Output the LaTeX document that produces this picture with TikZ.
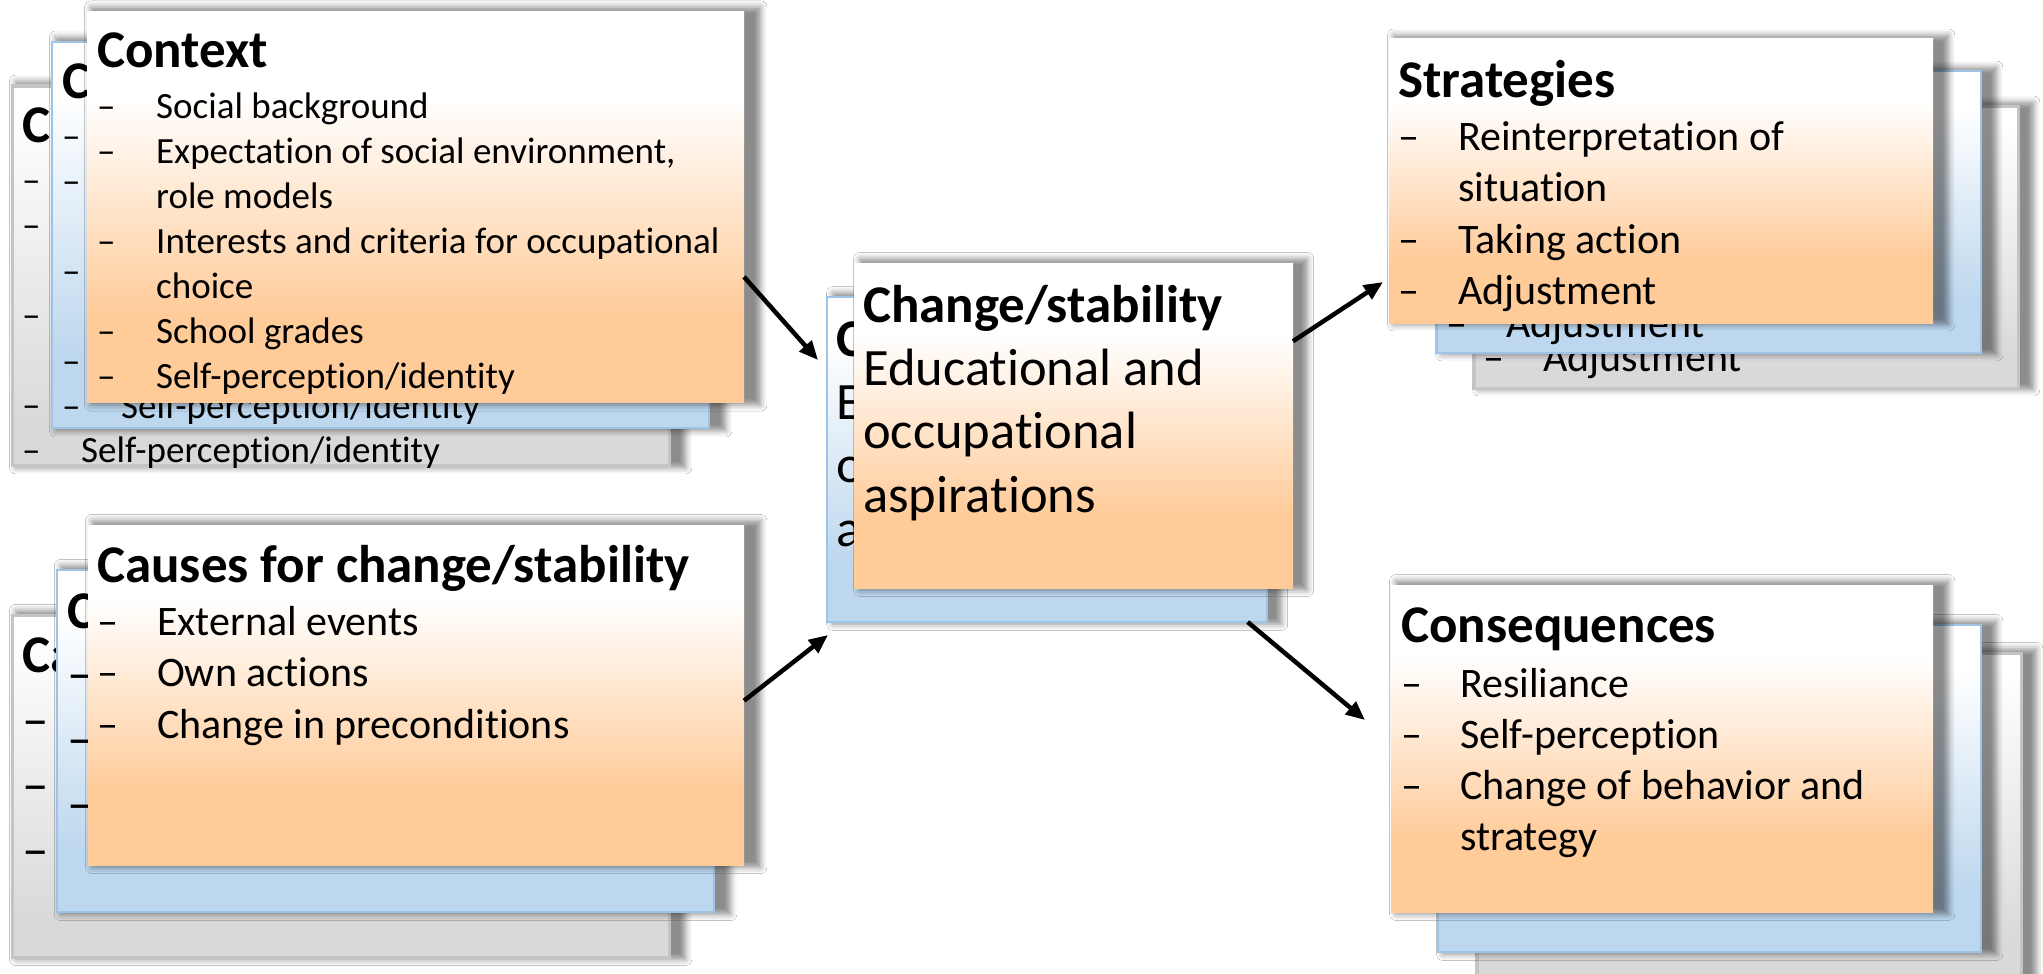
\documentclass[tikz,border=0pt]{standalone}
\usepackage{fontspec}
\setmainfont{Carlito}[Ligatures={NoCommon,NoContextual,NoRequired}, Contextuals=NoAlternate, RawFeature={-dlig}]
\usetikzlibrary{arrows.meta,shadows.blur}

\definecolor{orng}{RGB}{255,203,153}
\definecolor{blu}{RGB}{189,215,238}
\definecolor{bluline}{RGB}{157,195,230}
\definecolor{gry}{RGB}{217,217,217}
\definecolor{gryline}{RGB}{196,196,196}

\pgfdeclareverticalshading{orngsh}{100bp}{color(0bp)=(orng); color(36bp)=(orng); color(64bp)=(white); color(100bp)=(white)}
\pgfdeclareverticalshading{blush}{100bp}{color(0bp)=(blu); color(34bp)=(blu); color(68bp)=(white); color(100bp)=(white)}
\pgfdeclareverticalshading{grysh}{100bp}{color(0bp)=(gry); color(30bp)=(gry); color(72bp)=(white); color(100bp)=(white)}

\newlength{\Ind}
\newcommand{\Dl}[1]{\makebox[\Ind][l]{–}#1}
\newcommand{\Cl}[1]{\hspace*{\Ind}#1}
\newcommand{\Tp}{\rule{0pt}{80pt}}

\newcommand{\CtxList}{\Tp\Dl{Social background}\\ \Dl{Expectation of social environment,}\\ \Cl{role models}\\ \Dl{Interests and criteria for occupational}\\ \Cl{choice}\\ \Dl{School grades}\\ \Dl{Self-perception/identity}}
\newcommand{\CtxBack}{\Tp–\\ –\\ \mbox{}\\ –\\ \mbox{}\\ –\\ \Dl{Self-perception/identity}}
\newcommand{\CauList}{\Tp\Dl{External events}\\ \Dl{Own actions}\\ \Dl{Change in preconditions}}
\newcommand{\CauBack}{\Tp–\\ –\\ –}
\newcommand{\ChgList}{\Tp Educational and\\ occupational\\ aspirations}
\newcommand{\StrList}{\Tp\Dl{Reinterpretation of}\\ \Cl{situation}\\ \Dl{Taking action}\\ \Dl{Adjustment}}
\newcommand{\ConList}{\Tp\Dl{Resiliance}\\ \Dl{Self-perception}\\ \Dl{Change of behavior and}\\ \Cl{strategy}}

\tikzset{
  cardbase/.style={rectangle, inner sep=0pt, outer sep=0pt, anchor=north west,
    blur shadow={shadow xshift=10pt, shadow yshift=1pt, shadow scale=1.02,
      shadow blur radius=6pt, shadow opacity=45}},
  frontcard/.style={cardbase, shade, shading=orngsh},
  bluecard/.style={cardbase, shade, shading=blush, draw=bluline, line width=2.5pt},
  graycard/.style={cardbase, shade, shading=grysh, draw=gryline, line width=3pt},
  ttl/.style={anchor=base west, inner sep=0pt, font=\fontsize{53}{64}\selectfont\bfseries},
  lstA/.style={anchor=north west, inner sep=0pt, align=left, font=\fontsize{37}{45}\selectfont},
  lstB/.style={anchor=north west, inner sep=0pt, align=left, font=\fontsize{42}{51.5}\selectfont},
  lstC/.style={anchor=north west, inner sep=0pt, align=left, font=\fontsize{53}{65}\selectfont},
  lstD/.style={anchor=north west, inner sep=0pt, align=left, font=\fontsize{52.5}{63.5}\selectfont},
  line/.style={anchor=base west, inner sep=0pt, font=\fontsize{42}{51.5}\selectfont},
  arr/.style={line width=4.5pt, -{Triangle[length=19pt,width=16pt]}},
}

\begin{document}
\begin{tikzpicture}[x=1pt,y=-1pt]
\path[use as bounding box, fill=white] (0,0) rectangle (2043,974);

% ---------- Context stack ----------
\setlength{\Ind}{59pt}
\node[graycard, minimum width=657pt, minimum height=379pt] (ctxG) at (12,86) {};
\node[ttl] (ctxGt) at (22,142) {C};
\node[lstA] (ctxGl) at (22,192-80) {\CtxBack};
\node[bluecard, minimum width=657pt, minimum height=386pt] (ctxB) at (52,42) {};
\node[ttl] (ctxBt) at (62,98) {C};
\node[lstA] (ctxBl) at (62,148-80) {\CtxBack};
\node[frontcard, minimum width=657pt, minimum height=390pt] (ctxF) at (87,12) {};
\node[ttl] (ctxFt) at (97,68) {Context};
\node[lstA] (ctxFl) at (97,118-80) {\CtxList};

% ---------- Causes stack ----------
\setlength{\Ind}{75pt}
\node[graycard, minimum width=657pt, minimum height=342pt] (cauG) at (12,615) {};
\node[ttl] (cauGt) at (22,672) {Ca};
\node[lstC] (cauGl) at (22,737-80) {\CauBack};
\node[bluecard, minimum width=657pt, minimum height=342pt] (cauB) at (57,570) {};
\node[ttl] (cauBt) at (67,628) {C};
\node[lstC] (cauBl) at (67,691-80) {\CauBack};
\setlength{\Ind}{60pt}
\node[frontcard, minimum width=656pt, minimum height=340pt] (cauF) at (88,525) {};
\node[ttl] (cauFt) at (97,582) {Causes for change/stability};
\node[lstB] (cauFl) at (97,635-80) {\CauList};

% ---------- Change/stability stack ----------
\node[bluecard, minimum width=440pt, minimum height=325pt] (chgB) at (827,297) {};
\node[ttl] (chgBt) at (836,356) {C};
\node[lstD] (chgBl) at (836,419-80) {\Tp E\\ o\\ a};
\node[frontcard, minimum width=439pt, minimum height=325pt] (chgF) at (854,263) {};
\node[ttl] (chgFt) at (863,322) {Change/stability};
\node[lstD] (chgFl) at (863,385-80) {\ChgList};

% ---------- Strategies stack ----------
\node[graycard, minimum width=544pt, minimum height=282pt] (strG) at (1474,106) {};
\node[line] (strGl) at (1483,371) {\Dl{Adjustment}};
\node[bluecard, minimum width=544pt, minimum height=282pt] (strB) at (1437,71) {};
\node[line] (strBl) at (1446,337) {\Dl{Adjustment}};
\node[frontcard, minimum width=544pt, minimum height=284pt] (strF) at (1389,39) {};
\node[ttl] (strFt) at (1398,97) {Strategies};
\node[lstB] (strFl) at (1398,150-80) {\StrList};

% ---------- Consequences stack ----------
\setlength{\Ind}{59pt}
\node[graycard, minimum width=544pt, minimum height=327pt] (conG) at (1477,653) {};
\node[bluecard, minimum width=543pt, minimum height=327pt] (conB) at (1438,625) {};
\node[frontcard, minimum width=542pt, minimum height=327pt] (conF) at (1391,585) {};
\node[ttl] (conFt) at (1401,642) {Consequences};
\node[lstB, font=\fontsize{42}{51}\selectfont] (conFl) at (1401,697-80) {\ConList};

% ---------- Connectors ----------
\coordinate (a1e) at (818,360);
\coordinate (a2e) at (828,635);
\coordinate (a3e) at (1383,282);
\coordinate (a4e) at (1365,720);
\draw[arr] (ctxF.-12.86) -- (a1e);
\draw[arr] (cauF.-1.4) -- (a2e);
\draw[arr] (chgF.21.7) -- (a3e);
\draw[arr] (chgB.-39.4) -- (a4e);
\end{tikzpicture}
\end{document}
